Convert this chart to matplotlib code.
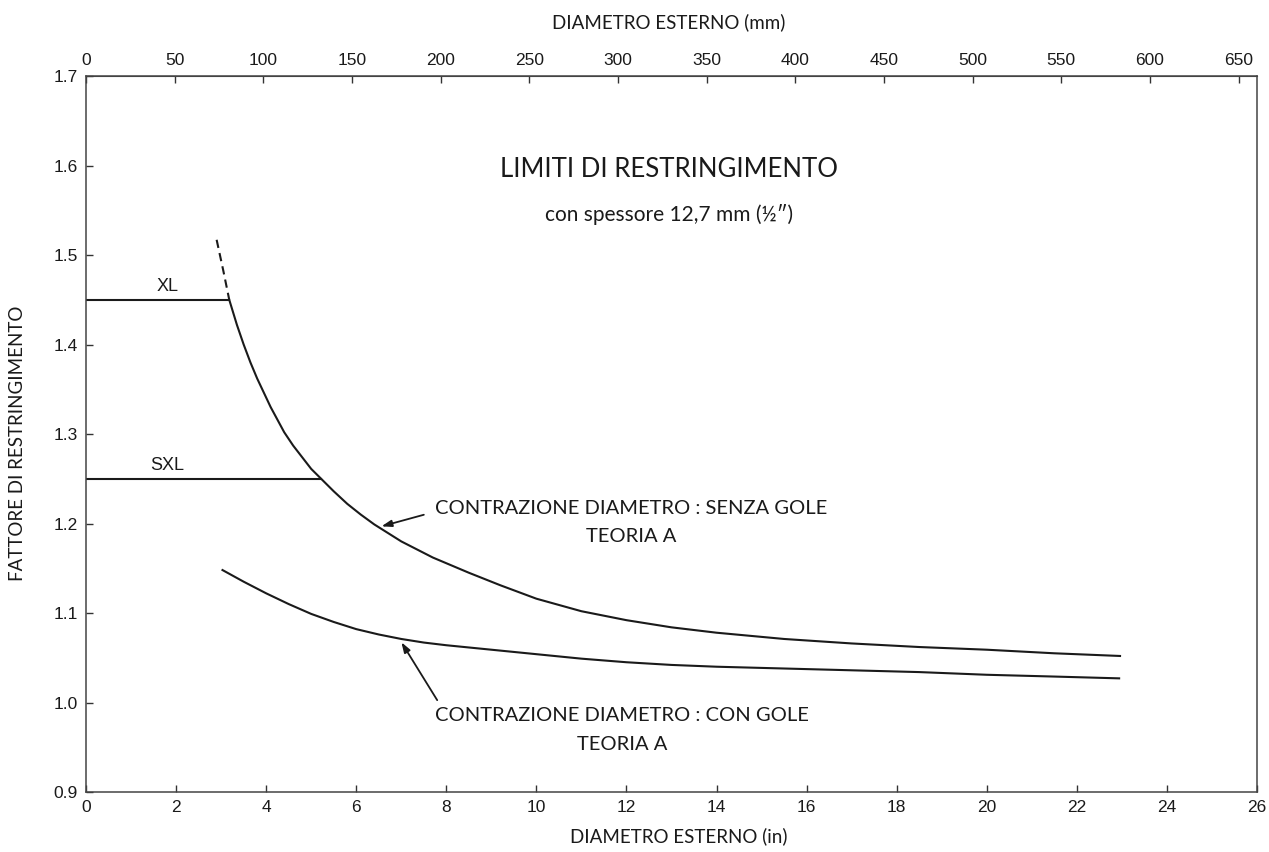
import numpy as np
import matplotlib
matplotlib.use("Agg")
import matplotlib.pyplot as plt

# curva senza gole (teoria A), diametro in pollici -> fattore
senza_in = [3.18, 3.35, 3.5, 3.65, 3.8, 3.95, 4.1, 4.25, 4.4, 4.6, 4.8, 5.0, 5.22, 5.5,
            5.8, 6.1, 6.4, 7.0, 7.7, 8.5, 9.2, 10.0, 11.0, 12.0, 13.0, 14.0, 15.5,
            17.0, 18.5, 20.0, 21.5, 22.96]
senza_f = [1.450, 1.422, 1.400, 1.380, 1.362, 1.346, 1.330, 1.316, 1.302, 1.287, 1.274,
           1.261, 1.250, 1.236, 1.222, 1.210, 1.199, 1.180, 1.162, 1.145, 1.131, 1.116,
           1.102, 1.092, 1.084, 1.078, 1.071, 1.066, 1.062, 1.059, 1.055, 1.052]
# tratto tratteggiato sopra il limite XL
tratt_in = [2.90, 3.05, 3.18]
tratt_f = [1.517, 1.482, 1.450]

# curva con gole (teoria A)
con_in = [3.03, 3.5, 4.0, 4.5, 5.0, 5.5, 6.0, 6.5, 7.0, 7.5, 8.0, 9.0, 10.0, 11.0,
          12.0, 13.0, 14.0, 15.5, 17.0, 18.5, 20.0, 21.5, 22.94]
con_f = [1.148, 1.135, 1.122, 1.110, 1.099, 1.090, 1.082, 1.076, 1.071, 1.067, 1.064,
         1.059, 1.054, 1.049, 1.045, 1.042, 1.040, 1.038, 1.036, 1.034, 1.031, 1.029, 1.027]

# limiti XL e SXL
limiti = ["XL", "SXL"]
limiti_f = [1.45, 1.25]
limiti_fine = [3.18, 5.22]

x_ticks = list(range(0, 27, 2))
y_ticks = [0.9, 1.0, 1.1, 1.2, 1.3, 1.4, 1.5, 1.6, 1.7]
mm_ticks = list(range(0, 651, 50))

tick_font = ["Liberation Sans Narrow", "Liberation Sans", "DejaVu Sans"]
text_font = ["Lato", "DejaVu Sans"]
col = "#1a1a1a"

fig = plt.figure(figsize=(12.69, 8.52), dpi=100)
ax = fig.add_axes([0.0678, 0.0704, 0.9227, 0.8404])

ax.plot(senza_in, senza_f, color=col, lw=1.5)
ax.plot(tratt_in, tratt_f, color=col, lw=1.5, ls=(0, (4, 2.5)))
ax.plot(con_in, con_f, color=col, lw=1.5)

for nome, f, fine in zip(limiti, limiti_f, limiti_fine):
    ax.plot([0, fine], [f, f], color=col, lw=1.5)
    ax.text(1.8, f + 0.005, nome, ha="center", va="bottom", fontsize=13,
            family=["Liberation Sans", "DejaVu Sans"], color=col)

ax.set_xlim(0, 26)
ax.set_ylim(0.9, 1.7)
ax.set_xticks(x_ticks)
ax.set_yticks(y_ticks)
ax.set_yticklabels([f"{v:.1f}" for v in y_ticks])

sec = ax.secondary_xaxis("top", functions=(lambda x: x * 25.4, lambda x: x / 25.4))
sec.set_xticks(mm_ticks)

for a in (ax, sec):
    a.tick_params(direction="in", length=5, width=1, colors="#333333",
                  labelcolor=col, labelsize=12.5, pad=6)
    for lab in a.get_xticklabels() + a.get_yticklabels():
        lab.set_family(tick_font)
for s in ax.spines.values():
    s.set_color("#444444")
    s.set_linewidth(1.1)
sec.spines["top"].set_color("#444444")

ax.text(12.95, 1.596, "LIMITI DI RESTRINGIMENTO", ha="center", va="center",
        fontsize=18.5, family=text_font, color=col)
ax.text(12.95, 1.545, "con spessore 12,7 mm (½\u2033)", ha="center", va="center",
        fontsize=15, family=text_font, color=col)

ax.annotate("", xy=(6.5, 1.196), xytext=(7.56, 1.2106),
            arrowprops=dict(arrowstyle="-|>,head_length=0.6,head_width=0.2", color=col, lw=1.3))
ax.text(12.1, 1.217, "CONTRAZIONE DIAMETRO : SENZA GOLE", ha="center", va="center",
        fontsize=14.5, family=text_font, color=col)
ax.text(12.1, 1.185, "TEORIA A", ha="center", va="center",
        fontsize=14.5, family=text_font, color=col)

ax.annotate("", xy=(6.97, 1.070), xytext=(7.83, 1.0),
            arrowprops=dict(arrowstyle="-|>,head_length=0.6,head_width=0.2", color=col, lw=1.3))
ax.text(11.9, 0.985, "CONTRAZIONE DIAMETRO : CON GOLE", ha="center", va="center",
        fontsize=14.5, family=text_font, color=col)
ax.text(11.9, 0.953, "TEORIA A", ha="center", va="center",
        fontsize=14.5, family=text_font, color=col)

fig.text(0.527, 0.974, "DIAMETRO ESTERNO (mm)", ha="center", va="center",
         fontsize=13.5, family=text_font, color=col)
fig.text(0.535, 0.018, "DIAMETRO ESTERNO (in)", ha="center", va="center",
         fontsize=13.5, family=text_font, color=col)
fig.text(0.014, 0.48, "FATTORE DI RESTRINGIMENTO", ha="center", va="center",
         rotation=90, fontsize=13.5, family=text_font, color=col)

fig.savefig("out.png", dpi=100)
